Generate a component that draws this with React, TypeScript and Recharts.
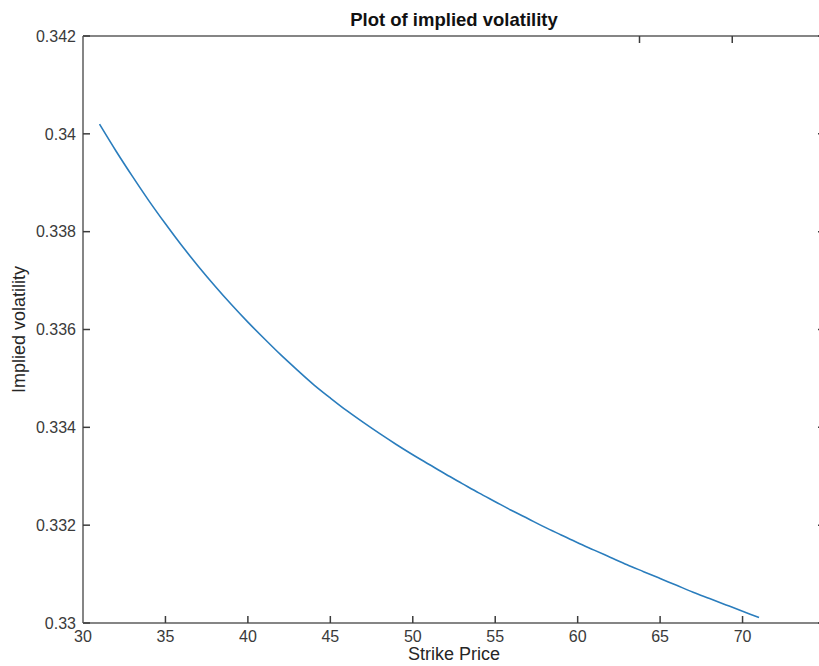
import { LineChart, Line, XAxis, YAxis } from "recharts";

// strike prices and the implied volatility
const STRIKES = [
  31, 32, 33, 34, 35, 36, 37, 38, 39, 40,
  41, 42, 43, 44, 45, 46, 47, 48, 49, 50,
  51, 52, 53, 54, 55, 56, 57, 58, 59, 60,
  61, 62, 63, 64, 65, 66, 67, 68, 69, 70, 71,
];
const IMPLIED_VOL = [
  0.3402, 0.33965, 0.33913, 0.33863, 0.33816, 0.33771, 0.33729, 0.33689, 0.33651, 0.33615,
  0.33581, 0.33548, 0.33517, 0.33487, 0.3346, 0.33434, 0.3341, 0.33387, 0.33365, 0.33344,
  0.33324, 0.33304, 0.33285, 0.33266, 0.33248, 0.3323, 0.33213, 0.33196, 0.3318, 0.33164,
  0.33149, 0.33134, 0.33119, 0.33105, 0.33091, 0.33077, 0.33063, 0.3305, 0.33037, 0.33024, 0.33011,
];

const X_LABEL_TICKS = [30, 35, 40, 45, 50, 55, 60, 65, 70];
const X_TOP_TICKS = [30, 35, 40, 45, 50, 55, 60, 65, 70, 75];
const Y_TICKS = [0.33, 0.332, 0.334, 0.336, 0.338, 0.34, 0.342];

const FONT = '"Liberation Sans", Arial, Helvetica, sans-serif';
const AXIS = "#858585";
const TICK = "#3c3c3c";
const TEXT = "#3a3a3a";

const data = STRIKES.map((k, i) => ({ strike: k, vol: IMPLIED_VOL[i] }));

const fmtY = (v: number) => String(Number(v.toFixed(3)));
const blank = () => "";

export default function App() {
  return (
    <div
      style={{
        position: "fixed", left: 0, top: 0, width: 819, height: 666,
        overflow: "hidden", background: "#fff",
      }}
    >
      <LineChart
        width={840}
        height={666}
        data={data}
        margin={{ top: 35, right: 14, left: 0, bottom: 0 }}
        style={{ fontFamily: FONT }}
      >
        {/* bottom axis with labels */}
        <XAxis
          xAxisId="bottom"
          dataKey="strike"
          type="number"
          domain={[30, 75]}
          allowDataOverflow
          ticks={X_LABEL_TICKS}
          interval={0}
          height={43}
          tickSize={-7}
          tickMargin={15}
          tick={{ fontSize: 16, fill: TEXT, fontFamily: FONT }}
          axisLine={{ stroke: AXIS, strokeWidth: 2 }}
          tickLine={{ stroke: TICK, strokeWidth: 1.5 }}
          label={{
            // eslint-disable-next-line @typescript-eslint/no-explicit-any
            content: (p: any) => (
              <text
                x={p.viewBox.x + p.viewBox.width / 2}
                y={p.viewBox.y + 37}
                textAnchor="middle"
                fontSize={18}
                fontFamily={FONT}
                fill="#262626"
              >
                Strike Price
              </text>
            ),
          }}
        />
        {/* top border, ticks only, carries the title */}
        <XAxis
          xAxisId="top"
          orientation="top"
          type="number"
          domain={[30, 75]}
          allowDataOverflow
          ticks={X_TOP_TICKS}
          interval={0}
          height={1}
          tickSize={-7}
          tickFormatter={blank}
          axisLine={{ stroke: AXIS, strokeWidth: 2 }}
          tickLine={{ stroke: TICK, strokeWidth: 1.5 }}
          label={{
            // eslint-disable-next-line @typescript-eslint/no-explicit-any
            content: (p: any) => (
              <text
                x={p.viewBox.x + p.viewBox.width / 2}
                y={p.viewBox.y - 9}
                textAnchor="middle"
                fontSize={18.5}
                fontWeight="bold"
                fontFamily={FONT}
                fill="#111"
              >
                Plot of implied volatility
              </text>
            ),
          }}
        />
        <YAxis
          yAxisId="left"
          type="number"
          domain={[0.33, 0.342]}
          allowDataOverflow
          ticks={Y_TICKS}
          interval={0}
          width={83}
          tickSize={-7}
          tickMargin={14}
          tickFormatter={fmtY}
          tick={{ fontSize: 16, fill: TEXT, fontFamily: FONT }}
          axisLine={{ stroke: AXIS, strokeWidth: 2 }}
          tickLine={{ stroke: TICK, strokeWidth: 1.5 }}
          label={{
            // eslint-disable-next-line @typescript-eslint/no-explicit-any
            content: (p: any) => {
              const cx = p.viewBox.x + 25;
              const cy = p.viewBox.y + p.viewBox.height / 2;
              return (
                <text
                  x={cx}
                  y={cy}
                  transform={`rotate(-90, ${cx}, ${cy})`}
                  textAnchor="middle"
                  fontSize={18}
                  fontFamily={FONT}
                  fill="#262626"
                >
                  Implied volatility
                </text>
              );
            },
          }}
        />
        {/* right border, ticks only */}
        <YAxis
          yAxisId="right"
          orientation="right"
          type="number"
          domain={[0.33, 0.342]}
          allowDataOverflow
          ticks={Y_TICKS}
          interval={0}
          width={1}
          tickSize={-7}
          tickFormatter={blank}
          axisLine={{ stroke: AXIS, strokeWidth: 2 }}
          tickLine={{ stroke: TICK, strokeWidth: 1.5 }}
        />

        <Line
          xAxisId="bottom"
          yAxisId="left"
          type="monotone"
          dataKey="vol"
          stroke="#2a7dbd"
          strokeWidth={1.6}
          dot={false}
          isAnimationActive={false}
        />
      </LineChart>
    </div>
  );
}
